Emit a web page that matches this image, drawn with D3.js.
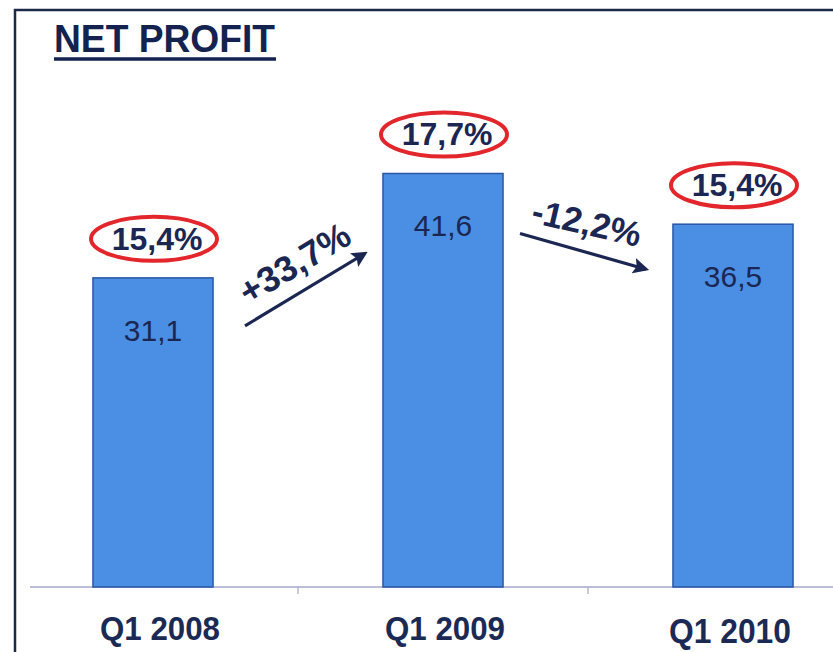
<!DOCTYPE html>
<html>
<head>
<meta charset="utf-8">
<script src="https://cdn.jsdelivr.net/npm/d3@7/dist/d3.min.js"></script>
<style>
  html, body { margin: 0; padding: 0; background: #fff; }
  svg { display: block; }
</style>
</head>
<body>
<svg id="chart" width="833" height="652"></svg>
<script>
const categories = ["Q1 2008", "Q1 2009", "Q1 2010"];
const values = [31.1, 41.6, 36.5];
const valueLabels = ["31,1", "41,6", "36,5"];
const marginLabels = ["15,4%", "17,7%", "15,4%"];
const changeLabels = ["+33,7%", "-12,2%"];
const title = "NET PROFIT";

const W = 833, H = 652;
const svg = d3.select("#chart");
const navy = "#1b2652";
const font = "Liberation Sans, Arial, sans-serif";

// frame
svg.append("path")
  .attr("d", `M15,${H} L15,10 L${W},10`)
  .attr("fill", "none").attr("stroke", "#1c2a4a").attr("stroke-width", 2.5);

// title
svg.append("text")
  .attr("x", 54).attr("y", 52)
  .attr("font-family", font)
  .attr("font-weight", "bold").attr("font-size", 38)
  .attr("textLength", 221).attr("lengthAdjust", "spacingAndGlyphs")
  .attr("fill", "#13224f").text(title);
svg.append("line")
  .attr("x1", 54).attr("x2", 276).attr("y1", 59).attr("y2", 59)
  .attr("stroke", "#13224f").attr("stroke-width", 3.5);

const x = d3.scaleBand().domain(categories).range([8, 878]).paddingInner(0.586).paddingOuter(0.293);
const y = d3.scaleLinear().domain([0, 10]).range([587, 587 - 99.4]);

// axis
const axisG = svg.append("g").attr("transform", "translate(0,587)");
axisG.append("line").attr("x1", 30).attr("x2", W).attr("y1", 0).attr("y2", 0)
  .attr("stroke", "#a6a8c8").attr("stroke-width", 1.5);
const boundaries = categories.slice(1).map(c => x(c) - x.step() * x.paddingInner() / 2);
axisG.selectAll("line.tick").data(boundaries).enter().append("line")
  .attr("class", "tick")
  .attr("x1", d => d).attr("x2", d => d).attr("y1", 0).attr("y2", 7)
  .attr("stroke", "#a6a8c8").attr("stroke-width", 1.2);

// bars
svg.selectAll("rect.bar").data(values).enter().append("rect")
  .attr("class", "bar")
  .attr("x", (d, i) => x(categories[i]))
  .attr("width", x.bandwidth())
  .attr("y", d => y(d))
  .attr("height", d => y(0) - y(d))
  .attr("fill", "#4a8fe3").attr("stroke", "#2a56a6").attr("stroke-width", 1.5);

// value labels
svg.selectAll("text.val").data(values).enter().append("text")
  .attr("class", "val")
  .attr("x", (d, i) => x(categories[i]) + x.bandwidth() / 2)
  .attr("y", d => y(d) + 63)
  .attr("text-anchor", "middle")
  .attr("font-family", font)
  .attr("font-size", 30).attr("fill", navy)
  .text((d, i) => valueLabels[i]);

// margin ellipses
const mg = svg.selectAll("g.margin").data(values).enter().append("g")
  .attr("class", "margin")
  .attr("transform", (d, i) => `translate(${x(categories[i]) + x.bandwidth() / 2 + 1},${y(d) - 39})`);
mg.append("ellipse").attr("rx", 63).attr("ry", 22)
  .attr("fill", "none").attr("stroke", "#e2262c").attr("stroke-width", 4);
mg.append("text")
  .attr("y", 11).attr("x", 3)
  .attr("text-anchor", "middle")
  .attr("font-family", font)
  .attr("font-weight", "bold").attr("font-size", 32).attr("fill", navy)
  .text((d, i) => marginLabels[i]);

// change arrows
svg.append("defs").append("marker")
  .attr("id", "ah").attr("viewBox", "0 0 10 10").attr("refX", 8).attr("refY", 5)
  .attr("markerWidth", 5).attr("markerHeight", 5).attr("orient", "auto")
  .append("path").attr("d", "M0,0 L10,5 L0,10 L2,5 Z").attr("fill", navy);

const arrows = [0, 1].map(i => {
  const x0 = x(categories[i]) + x.bandwidth(), x1 = x(categories[i + 1]);
  return { i, x0, x1 };
});
const a1 = { x1: arrows[0].x0 + 32, y1: y(values[0]) + 48, x2: arrows[0].x1 - 18, y2: y(values[1]) + 80 };
const a2 = { x1: arrows[1].x0 + 17, y1: y(values[1]) + 60, x2: arrows[1].x1 - 27, y2: y(values[2]) + 45 };
[a1, a2].forEach(a => {
  svg.append("line")
    .attr("x1", a.x1).attr("y1", a.y1).attr("x2", a.x2).attr("y2", a.y2)
    .attr("stroke", navy).attr("stroke-width", 3.2)
    .attr("marker-end", "url(#ah)");
});
svg.append("text")
  .attr("transform", `translate(${a1.x1 + 56},${a1.y1 - 52}) rotate(-31)`)
  .attr("text-anchor", "middle")
  .attr("font-family", font)
  .attr("font-weight", "bold").attr("font-size", 36).attr("fill", navy)
  .text(changeLabels[0]);
svg.append("text")
  .attr("transform", `translate(${a2.x1 + 64},${a2.y1 + 1}) rotate(13)`)
  .attr("text-anchor", "middle")
  .attr("font-family", font)
  .attr("font-weight", "bold").attr("font-size", 35).attr("fill", navy)
  .text(changeLabels[1]);

// category labels
svg.selectAll("text.cat").data(categories).enter().append("text")
  .attr("class", "cat")
  .attr("x", (d, i) => x(d) + x.bandwidth() / 2 + [7, 2, -3][i])
  .attr("y", (d, i) => i === 2 ? 643 : 640)
  .attr("text-anchor", "middle")
  .attr("font-family", font)
  .attr("font-weight", "bold").attr("font-size", (d, i) => i === 2 ? 35 : 34)
  .attr("textLength", (d, i) => i === 2 ? 122 : 120).attr("lengthAdjust", "spacingAndGlyphs")
  .attr("fill", "#1b2a55")
  .text(d => d);
</script>
</body>
</html>
